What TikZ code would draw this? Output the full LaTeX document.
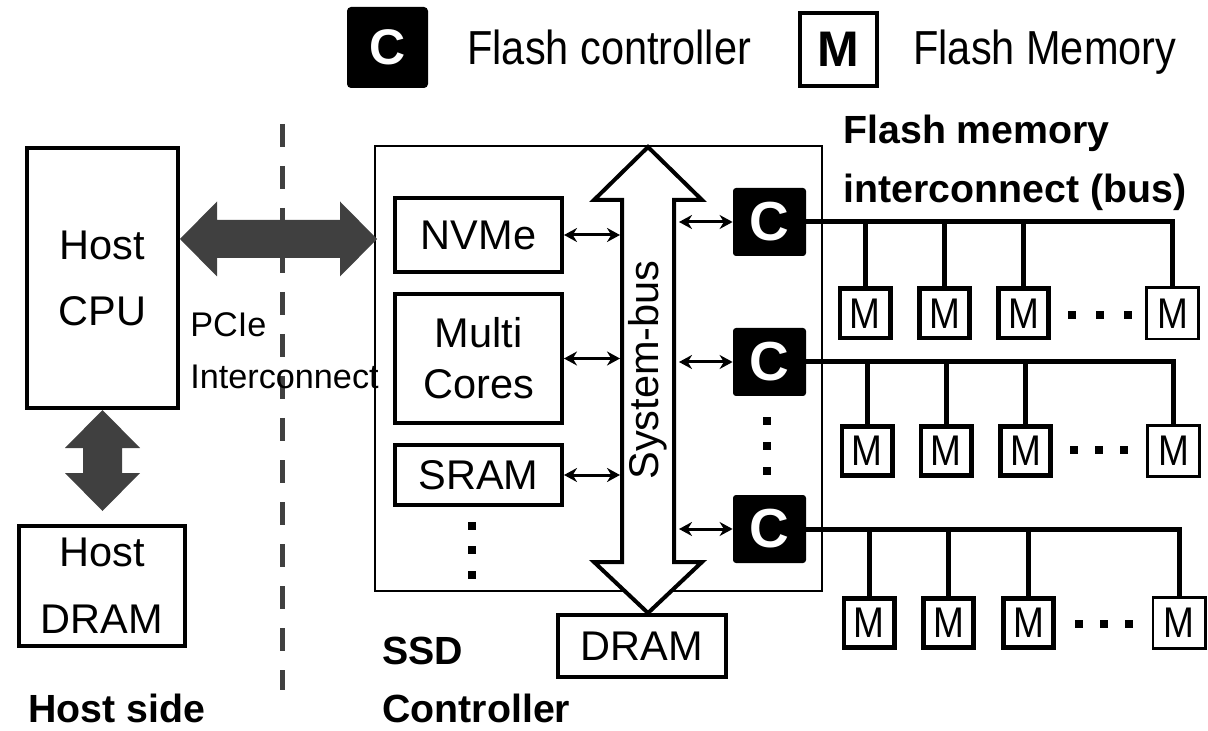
\documentclass[tikz,border=0pt]{standalone}
\usepackage{fontspec}
\setmainfont{Liberation Sans}
\usepackage{graphicx}
\usetikzlibrary{calc,arrows.meta}
\definecolor{agray}{HTML}{404040}
\newcommand\fs[2]{\fontsize{#1}{#2}\selectfont}
\newcommand\hdarrow[5]{\fill[agray] (#1) -- ($(#1)+(#5,-#3)$) -- ($(#1)+(#5,-#4)$) -- ($(#2)+(-#5,-#4)$) -- ($(#2)+(-#5,-#3)$) -- (#2) -- ($(#2)+(-#5,#3)$) -- ($(#2)+(-#5,#4)$) -- ($(#1)+(#5,#4)$) -- ($(#1)+(#5,#3)$) -- cycle;}
\newcommand\vdarrow[5]{\fill[agray] (#1) -- ($(#1)+(#3,#5)$) -- ($(#1)+(#4,#5)$) -- ($(#2)+(#4,-#5)$) -- ($(#2)+(#3,-#5)$) -- (#2) -- ($(#2)+(-#3,-#5)$) -- ($(#2)+(-#4,-#5)$) -- ($(#1)+(-#4,#5)$) -- ($(#1)+(-#3,#5)$) -- cycle;}
\newcommand\sqdot[1]{\fill (#1) +(-4,-4) rectangle +(4,4);}
\begin{document}
\begin{tikzpicture}[x=0.5pt,y=-0.5pt,
  blk/.style={draw, line width=2pt, inner sep=0pt, align=center, font=\fs{20.75pt}{25.5pt}},
  cbox/.style={fill=black, rounded corners=1.5pt, inner sep=0pt, minimum width=36.5pt, minimum height=34pt, text=white, font=\bfseries\fs{27.5pt}{30pt}},
  mbox/.style={draw, line width=2.4pt, inner sep=0pt, minimum width=25.1pt, minimum height=24.6pt, font=\fs{18.5pt}{20pt}},
  mlast/.style={mbox, line width=1.4pt, minimum width=26.1pt, minimum height=25.6pt},
  bus/.style={line width=2.5pt},
  sarrow/.style={line width=1.5pt, {Stealth[length=6.5pt,width=7pt]}-{Stealth[length=6.5pt,width=7pt]}},
  lbl/.style={font=\bfseries\fs{19.65pt}{24pt}, anchor=base west, inner sep=0pt},
  txt/.style={anchor=base west, inner sep=0pt},
]
\useasboundingbox (0,0) rectangle (1208,731);

% legend
\node[fill=black, rounded corners=2pt, minimum size=40.5pt, inner sep=0pt, text=white, font=\bfseries\fs{25pt}{30pt}] (legc) at (387.5,47.5) {C};
\node[txt, font=\fs{20.75pt}{24pt}] (legct) at (467,65) {\scalebox{1}[1.15]{Flash controller}};
\node[draw, line width=2pt, minimum width=38.5pt, minimum height=36.5pt, inner sep=0pt, font=\bfseries\fs{25pt}{30pt}] (legm) at (838.5,49.5) {M};
\node[txt, font=\fs{20.75pt}{24pt}] (legmt) at (913,65) {\scalebox{1}[1.15]{Flash Memory}};

% host side
\node[blk, minimum width=75.5pt, minimum height=130pt, font=\fs{20.75pt}{33pt}] (cpu) at (102.5,278) {Host\\CPU};
\node[blk, minimum width=83pt, minimum height=60pt, font=\fs{20.75pt}{33.5pt}] (hdram) at (102,586) {Host\\DRAM};
\coordinate (vT) at (cpu.south);
\coordinate (vB) at ($(vT |- hdram.north)+(0,-13)$);
\vdarrow{vT}{vB}{37.5}{19.5}{38}
\node[lbl] (hside) at (28,722) {Host side};

% dashed separator
\coordinate (d1) at (282,124);
\coordinate (d2) at (282,690);
\draw[agray, line width=2.5pt, dash pattern=on 11.5pt off 9.5pt] (d1) -- (d2);

% SSD controller
\node[draw, line width=1pt, minimum width=223.5pt, minimum height=222.5pt, inner sep=0pt] (ssd) at (598.5,368.5) {};
\node[blk, minimum width=83.5pt, minimum height=37pt] (nvme) at (478.5,235) {NVMe};
\node[blk, minimum width=83.5pt, minimum height=64.5pt] (multi) at (478.5,358.5) {Multi\\Cores};
\node[blk, minimum width=83.5pt, minimum height=30pt] (sram) at (478.5,475) {SRAM};
\node[blk, minimum width=84pt, minimum height=31pt] (dram) at (642,646) {DRAM};
\sqdot{472,526}\sqdot{472,550}\sqdot{472,575}

% PCIe link
\coordinate (pL) at ($(cpu.east)+(0,-39)$);
\coordinate (pR) at ($(ssd.west |- pL)+(3,0)$);
\hdarrow{pL}{pR}{37.5}{19}{37}
\node[txt, font=\fs{17.1pt}{20pt}] (pcie1) at (190,337) {PCIe};
\node[txt, font=\fs{17.1pt}{20pt}] (pcie2) at (190,389) {Interconnect};

% system bus
\coordinate (sbT) at ($(ssd.north)+(49.5,2)$);
\coordinate (sbB) at (sbT |- dram.north);
\draw[line width=2pt, fill=white] (sbT) -- ($(sbT)+(54,53)$) -- ($(sbT)+(26,53)$) -- ($(sbB)+(26,-51)$) -- ($(sbB)+(54,-51)$) -- (sbB) -- ($(sbB)+(-54,-51)$) -- ($(sbB)+(-26,-51)$) -- ($(sbT)+(-26,53)$) -- ($(sbT)+(-54,53)$) -- cycle;
\node[rotate=90, inner sep=0pt, font=\fs{20.75pt}{24pt}] (sbl) at (648,370) {System-bus};
\coordinate (busL) at ($(sbT)+(-28,0)$);
\coordinate (busR) at ($(sbT)+(31,0)$);

% flash controllers
\node[cbox] (c1) at (769.5,222) {C};
\node[cbox] (c2) at (769.5,362) {C};
\node[cbox] (c3) at (769.5,529) {C};
\sqdot{767,421}\sqdot{767,446}\sqdot{767,471}

\draw[sarrow] (nvme.east) -- (nvme.east -| busL);
\draw[sarrow] (multi.east) -- (multi.east -| busL);
\draw[sarrow] (sram.east) -- (sram.east -| busL);
\draw[sarrow] (c1.west -| busR) -- (c1.west);
\draw[sarrow] (c2.west -| busR) -- (c2.west);
\draw[sarrow] (c3.west -| busR) -- (c3.west);

% flash memories
\node[mbox] (m11) at (865,313.5) {\scalebox{1}[1.16]{M}};
\node[mbox] (m12) at (944.5,313.5) {\scalebox{1}[1.16]{M}};
\node[mbox] (m13) at (1023.5,313.5) {\scalebox{1}[1.16]{M}};
\node[mlast] (m14) at (1172.5,313.5) {\scalebox{1}[1.16]{M}};
\node[mbox] (m21) at (867,451) {\scalebox{1}[1.16]{M}};
\node[mbox] (m22) at (946,451) {\scalebox{1}[1.16]{M}};
\node[mbox] (m23) at (1025.5,451) {\scalebox{1}[1.16]{M}};
\node[mlast] (m24) at (1173.5,451) {\scalebox{1}[1.16]{M}};
\node[mbox] (m31) at (869,623) {\scalebox{1}[1.16]{M}};
\node[mbox] (m32) at (948.5,623) {\scalebox{1}[1.16]{M}};
\node[mbox] (m33) at (1028.5,623) {\scalebox{1}[1.16]{M}};
\node[mlast] (m34) at (1179,623) {\scalebox{1}[1.16]{M}};

\draw[bus] (c1.east) -| (m14.north);
\draw[bus] (c2.east) -| (m24.north);
\draw[bus] (c3.east) -| (m34.north);
\foreach \r/\c in {1/c1,2/c2,3/c3}{
  \foreach \k in {1,2,3}{
    \draw[bus] (m\r\k.north) -- (m\r\k.north |- \c.east);
  }
}
\sqdot{1072,315}\sqdot{1100,315}\sqdot{1128,315}
\sqdot{1074,450}\sqdot{1099,450}\sqdot{1124,450}
\sqdot{1079,624}\sqdot{1104,624}\sqdot{1129,624}

% bold labels
\node[lbl] (fm1) at (843,144) {Flash memory};
\node[lbl] (fm2) at (843,203) {interconnect (bus)};
\node[lbl] (ssd1) at (382,664) {SSD};
\node[lbl] (ssd2) at (382,722) {Controller};
\end{tikzpicture}
\end{document}
